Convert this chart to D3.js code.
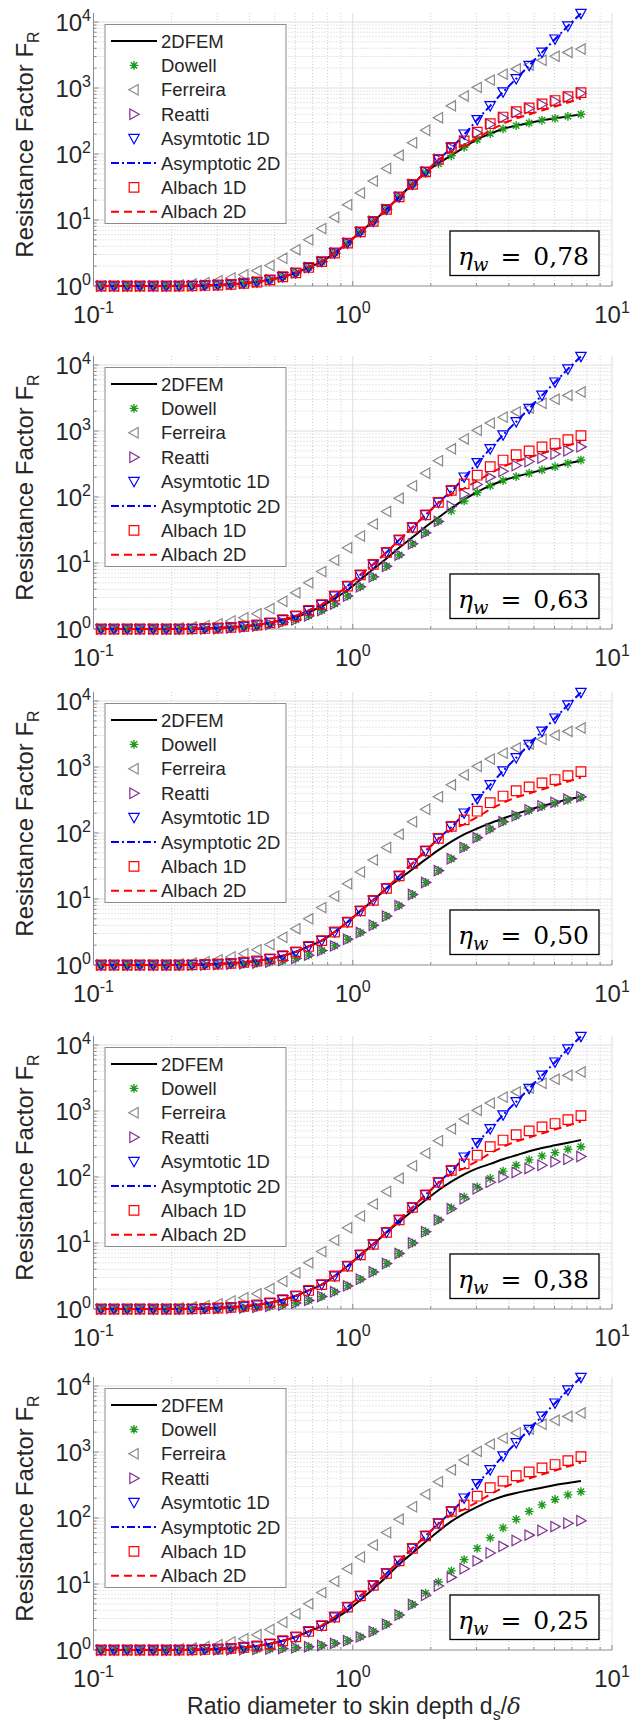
<!DOCTYPE html>
<html>
<head>
<meta charset="utf-8">
<script src="https://cdn.jsdelivr.net/npm/d3@7/dist/d3.min.js"></script>
<style>
body { margin: 0; background: #fff; }
text { font-family: "Liberation Sans", Arial, sans-serif; fill: #262626; }
</style>
</head>
<body>
<svg id="fig" width="639" height="1722"></svg>
<script>
// ratio d/delta at which every model was evaluated
var xs = [0.107, 0.120, 0.135, 0.151, 0.170, 0.191, 0.214, 0.240, 0.269, 0.302, 0.339, 0.380, 0.427, 0.479, 0.537, 0.603, 0.676, 0.759, 0.851, 0.955,
          1.07, 1.20, 1.35, 1.51, 1.70, 1.91, 2.14, 2.40, 2.69, 3.02, 3.39, 3.80, 4.27, 4.79, 5.37, 6.03, 6.76, 7.59];

// models that look the same in every panel
var asym1D = [1, 1, 1, 1, 1, 1, 1, 1.007, 1.02, 1.035, 1.06, 1.10, 1.15, 1.24, 1.38, 1.58, 1.91, 2.34, 3.16, 4.47,
              6.61, 9.55, 14.5, 22.4, 34.7, 53.7, 83.2, 126, 200, 331, 537, 871, 1380, 2188, 3467, 5495, 8710, 13490];
var asym2D = [1, 1, 1, 1, 1, 1, 1, 1.007, 1.02, 1.035, 1.06, 1.10, 1.15, 1.24, 1.38, 1.58, 1.91, 2.34, 3.16, 4.47,
              6.61, 9.55, 14.5, 22.4, 34.7, 53.7, 83.2, 122, 196, 331, 537, 871, 1380, 2188, 3467, 5495, 8710, 13490];
var albach1D = [1, 1, 1, 1, 1, 1, 1, 1.007, 1.02, 1.035, 1.06, 1.10, 1.15, 1.24, 1.38, 1.58, 1.91, 2.34, 3.16, 4.47,
                6.61, 9.55, 14.5, 22.4, 34.7, 53.7, 83.2, 126, 158, 214, 288, 363, 437, 501, 575, 646, 741, 851];
var albach2D = [1, 1, 1, 1, 1, 1, 1, 1.007, 1.02, 1.035, 1.06, 1.10, 1.15, 1.24, 1.38, 1.58, 1.91, 2.34, 3.16, 4.47,
                6.61, 9.55, 14.5, 22.4, 34.7, 53.0, 81.0, 112, 135, 174, 229, 288, 347, 398, 457, 525, 603, 692];
var ferreira = [1, 1, 1, 1, 1, 1, 1.035, 1.07, 1.12, 1.20, 1.32, 1.48, 1.70, 2.04, 2.63, 3.55, 5.01, 7.41, 11.0, 17.0,
                25.7, 38.9, 60.3, 95.5, 148, 229, 355, 537, 759, 1023, 1318, 1622, 1950, 2239, 2630, 3020, 3467, 3890];

// eta_w = 0,78
var fem78 = [1, 1, 1, 1, 1, 1, 1, 1.007, 1.02, 1.035, 1.06, 1.10, 1.15, 1.24, 1.38, 1.58, 1.91, 2.34, 3.16, 4.47,
             6.61, 9.55, 14.5, 22.4, 34.7, 52.5, 72.4, 95.5, 126, 166, 204, 240, 269, 295, 324, 347, 372, 398];
var dowell78 = [1, 1, 1, 1, 1, 1, 1, 1.007, 1.02, 1.035, 1.06, 1.10, 1.15, 1.24, 1.38, 1.58, 1.91, 2.34, 3.16, 4.47,
                6.61, 9.55, 14.5, 22.4, 34.7, 52.0, 71.0, 94.0, 126, 166, 204, 240, 269, 295, 324, 347, 372, 400];
var reatti78 = [1, 1, 1, 1, 1, 1, 1, 1.007, 1.02, 1.035, 1.06, 1.10, 1.15, 1.24, 1.38, 1.58, 1.91, 2.34, 3.16, 4.47,
                6.61, 9.55, 14.5, 22.4, 34.7, 53.7, 83.2, 123, 155, 209, 282, 355, 427, 490, 562, 631, 724, 832];
// eta_w = 0,63
var fem63 = [1, 1, 1, 1, 1, 1, 1, 1.007, 1.02, 1.035, 1.06, 1.10, 1.15, 1.24, 1.38, 1.50, 1.80, 2.20, 2.90, 3.90,
             5.60, 8.10, 11.7, 17.0, 24.5, 35.5, 49.0, 67.6, 91.2, 120, 148, 178, 204, 229, 257, 288, 324, 355];
var dowell63 = [1, 1, 1, 1, 1, 1, 1, 1, 1, 1.01, 1.03, 1.06, 1.11, 1.17, 1.26, 1.38, 1.58, 1.91, 2.40, 3.16,
                4.37, 6.17, 8.91, 13.2, 19.5, 28.8, 42.7, 61.7, 87.1, 117, 148, 178, 204, 229, 257, 288, 324, 363];
var reatti63 = [1, 1, 1, 1, 1, 1, 1, 1, 1, 1.01, 1.03, 1.06, 1.11, 1.17, 1.26, 1.38, 1.58, 1.91, 2.40, 3.16,
                4.37, 6.17, 8.91, 13.2, 19.5, 28.8, 42.7, 72.4, 110, 155, 200, 245, 300, 345, 389, 447, 501, 575];
// eta_w = 0,50
var fem50 = [1, 1, 1, 1, 1, 1, 1, 1.007, 1.02, 1.035, 1.06, 1.10, 1.15, 1.24, 1.38, 1.58, 1.91, 2.34, 3.16, 4.47,
             6.61, 9.55, 14.5, 20.0, 28.2, 39.8, 55.0, 74.1, 95.5, 117, 141, 166, 195, 224, 257, 288, 324, 355];
var dowell50 = [1, 1, 1, 1, 1, 1, 1, 1, 1, 1.015, 1.025, 1.04, 1.07, 1.11, 1.17, 1.26, 1.41, 1.66, 1.95, 2.45,
                3.10, 4.00, 5.50, 7.94, 11.7, 17.8, 26.9, 40.7, 60.3, 85.1, 115, 148, 182, 219, 251, 282, 316, 347];
var reatti50 = [1, 1, 1, 1, 1, 1, 1, 1, 1, 1.015, 1.025, 1.04, 1.07, 1.11, 1.17, 1.26, 1.41, 1.66, 1.95, 2.45,
                3.10, 4.00, 5.50, 7.94, 11.7, 17.8, 26.9, 40.7, 60.3, 85.1, 115, 148, 182, 224, 257, 291, 324, 355];
// eta_w = 0,38
var fem38 = [1, 1, 1, 1, 1, 1, 1, 1.007, 1.02, 1.035, 1.06, 1.10, 1.15, 1.24, 1.38, 1.58, 1.91, 2.34, 3.16, 4.47,
             6.61, 9.55, 14.5, 20.9, 30.9, 44.7, 63.1, 85.1, 110, 135, 158, 186, 214, 245, 275, 302, 331, 363];
var dowell38 = [1, 1, 1, 1, 1, 1, 1, 1, 1, 1.014, 1.023, 1.035, 1.06, 1.10, 1.15, 1.23, 1.35, 1.55, 1.82, 2.24,
                2.82, 3.63, 4.90, 6.92, 10.0, 14.8, 22.4, 33.9, 50.1, 70.8, 95.5, 123, 151, 182, 209, 234, 263, 288];
var reatti38 = [1, 1, 1, 1, 1, 1, 1, 1, 1, 1.014, 1.023, 1.035, 1.06, 1.10, 1.15, 1.23, 1.35, 1.55, 1.82, 2.24,
                2.82, 3.63, 4.90, 6.92, 10.0, 14.8, 22.4, 33.1, 46.8, 66.1, 83.2, 100, 117, 135, 151, 170, 186, 204];
// eta_w = 0,25
var fem25 = [1, 1, 1, 1, 1, 1, 1, 1.007, 1.02, 1.035, 1.06, 1.10, 1.15, 1.24, 1.38, 1.58, 1.91, 2.30, 2.95, 3.98,
             5.75, 8.51, 12.9, 20.0, 29.5, 43.7, 63.1, 89.1, 117, 148, 182, 214, 240, 263, 288, 316, 339, 363];
var dowell25 = [1, 1, 1, 1, 1, 1, 1, 1, 1, 1.007, 1.009, 1.014, 1.023, 1.035, 1.05, 1.08, 1.12, 1.17, 1.26, 1.38,
                1.58, 1.91, 2.45, 3.39, 4.90, 7.24, 10.7, 15.8, 23.4, 34.7, 50.1, 70.8, 95.5, 126, 158, 191, 224, 251];
var reatti25 = [1, 1, 1, 1, 1, 1, 1, 1, 1, 1.007, 1.009, 1.014, 1.023, 1.035, 1.05, 1.08, 1.12, 1.17, 1.26, 1.38,
                1.58, 1.91, 2.45, 3.39, 4.90, 6.76, 9.33, 12.6, 17.0, 22.4, 29.5, 37.2, 45.7, 55.0, 64.6, 74.1, 83.2, 91.2];

var etaLabels = ['0,78', '0,63', '0,50', '0,38', '0,25'];
var femSets = [fem78, fem63, fem50, fem38, fem25];
var dowellSets = [dowell78, dowell63, dowell50, dowell38, dowell25];
var reattiSets = [reatti78, reatti63, reatti50, reatti38, reatti25];
var legendNames = ['2DFEM', 'Dowell', 'Ferreira', 'Reatti', 'Asymtotic 1D', 'Asymptotic 2D', 'Albach 1D', 'Albach 2D'];
var yTickExp = [0, 1, 2, 3, 4];
var xTickExp = ['-1', '0', '1'];

var GREEN = '#1f9a1f', GRAY = '#8a8a8a', PURPLE = '#7e2f8e', BLUE = '#0000ff', RED = '#ff0000';

// style for each legend entry, same order as legendNames
var styles = [
	{ line: '#000', dash: null, marker: null },
	{ line: null, marker: 'star', color: GREEN },
	{ line: null, marker: 'left', color: GRAY },
	{ line: null, marker: 'right', color: PURPLE },
	{ line: null, marker: 'down', color: BLUE },
	{ line: BLUE, dash: '8,3,2,3', marker: null },
	{ line: null, marker: 'square', color: RED },
	{ line: RED, dash: '8,5', marker: null }
];

var svg = d3.select('#fig');
svg.append('rect').attr('width', 639).attr('height', 1722).attr('fill', '#fff');

var panelBase = [286, 629, 965, 1309, 1650]; // pixel row of 10^0 in each panel
var x = d3.scaleLog().domain([0.1, 10]).range([93.5, 612]);

function markerPath(kind) {
	var r = 5.2;
	switch (kind) {
		case 'star':
			var q = 3.2;
			return 'M' + (-4.4) + ',0H4.4M0,-4.4V4.4M' + (-q) + ',' + (-q) + 'L' + q + ',' + q + 'M' + (-q) + ',' + q + 'L' + q + ',' + (-q);
		case 'left':
			return 'M' + (-r) + ',0L' + (r * 0.8) + ',' + (-r) + 'L' + (r * 0.8) + ',' + r + 'Z';
		case 'right':
			return 'M' + r + ',0L' + (-r * 0.8) + ',' + (-r) + 'L' + (-r * 0.8) + ',' + r + 'Z';
		case 'down':
			return 'M0,' + r + 'L' + (-r) + ',' + (-r * 0.8) + 'L' + r + ',' + (-r * 0.8) + 'Z';
		case 'square':
			return 'M-4.8,-4.8H4.8V4.8H-4.8Z';
	}
}

function drawPanel(p) {
	var y0 = panelBase[p];
	var y = d3.scaleLog().domain([1, 13700]).range([y0, y0 - 273]);
	var g = svg.append('g').attr('class', 'panel');
	var top = y.range()[1];

	// grid: dotted minor lines, solid major lines
	var minorX = [], minorY = [];
	[0.1, 1].forEach(function(d) { for (var k = 2; k <= 9; k++) minorX.push(k * d); });
	[1, 10, 100, 1000].forEach(function(d) { for (var k = 2; k <= 9; k++) minorY.push(k * d); });
	var grid = g.append('g');
	grid.selectAll('.mx').data(minorX).enter().append('line')
		.attr('x1', d => x(d)).attr('x2', d => x(d)).attr('y1', top).attr('y2', y0)
		.attr('stroke', '#cfcfcf').attr('stroke-dasharray', '1,2');
	grid.selectAll('.my').data(minorY).enter().append('line')
		.attr('x1', x.range()[0]).attr('x2', x.range()[1]).attr('y1', d => y(d)).attr('y2', d => y(d))
		.attr('stroke', '#cfcfcf').attr('stroke-dasharray', '1,2');
	grid.selectAll('.Mx').data([1, 10]).enter().append('line')
		.attr('x1', d => x(d)).attr('x2', d => x(d)).attr('y1', top).attr('y2', y0)
		.attr('stroke', '#dedede');
	grid.selectAll('.My').data([10, 100, 1000, 10000]).enter().append('line')
		.attr('x1', x.range()[0]).attr('x2', x.range()[1]).attr('y1', d => y(d)).attr('y2', d => y(d))
		.attr('stroke', '#dedede');

	// axes (ticks inside, MATLAB style)
	var ax = g.append('g').attr('stroke', '#8c8c8c').attr('stroke-width', 1);
	ax.append('line').attr('x1', x.range()[0]).attr('x2', x.range()[0]).attr('y1', top).attr('y2', y0);
	ax.append('line').attr('x1', x.range()[0]).attr('x2', x.range()[1]).attr('y1', y0).attr('y2', y0);
	ax.selectAll('.ty').data(minorY).enter().append('line')
		.attr('x1', x.range()[0]).attr('x2', x.range()[0] + 3).attr('y1', d => y(d)).attr('y2', d => y(d));
	ax.selectAll('.tY').data([1, 10, 100, 1000, 10000]).enter().append('line')
		.attr('x1', x.range()[0]).attr('x2', x.range()[0] + 5).attr('y1', d => y(d)).attr('y2', d => y(d));
	ax.selectAll('.tx').data(minorX).enter().append('line')
		.attr('x1', d => x(d)).attr('x2', d => x(d)).attr('y1', y0).attr('y2', y0 - 3);
	ax.selectAll('.tX').data([0.1, 1, 10]).enter().append('line')
		.attr('x1', d => x(d)).attr('x2', d => x(d)).attr('y1', y0).attr('y2', y0 - 5);

	// tick labels
	g.selectAll('.yl').data(yTickExp).enter().append('text')
		.attr('x', x.range()[0] - 2.5).attr('y', d => y(Math.pow(10, d)) + 8.5)
		.attr('text-anchor', 'end').style('font-size', '24px')
		.each(function(d) {
			var t = d3.select(this);
			t.append('tspan').text('10');
			t.append('tspan').attr('dy', -10).style('font-size', '16px').text(d);
		});
	g.selectAll('.xl').data(xTickExp).enter().append('text')
		.attr('x', d => x(Math.pow(10, +d))).attr('y', y0 + 37)
		.attr('text-anchor', 'middle').style('font-size', '24px')
		.each(function(d) {
			var t = d3.select(this);
			t.append('tspan').text('10');
			t.append('tspan').attr('dy', -10).style('font-size', '16px').text(d === '-1' ? '-1' : d);
		});

	// y axis title
	var yt = g.append('text').attr('transform', 'translate(33,' + (y0 - 141.5) + ')rotate(-90)')
		.attr('text-anchor', 'middle').style('font-size', '24px');
	yt.append('tspan').text('Resistance Factor F');
	yt.append('tspan').attr('dy', 6).style('font-size', '16px').text('R');

	// series
	var series = [femSets[p], dowellSets[p], ferreira, reattiSets[p], asym1D, asym2D, albach1D, albach2D];
	var plot = g.append('g');
	series.forEach(function(vals, k) {
		var st = styles[k];
		var pts = xs.map((xv, i) => [xv, vals[i]]);
		if (st.line) {
			var line = d3.line().x(d => x(d[0])).y(d => y(d[1]))
				.curve(k === 0 ? d3.curveMonotoneX : d3.curveLinear);
			plot.append('path').attr('d', line(pts)).attr('fill', 'none')
				.attr('stroke', st.line).attr('stroke-width', 2)
				.attr('stroke-dasharray', st.dash);
		}
		if (st.marker) {
			plot.selectAll('.m' + k).data(pts).enter().append('path')
				.attr('transform', d => 'translate(' + x(d[0]) + ',' + y(d[1]) + ')')
				.attr('d', markerPath(st.marker)).attr('fill', 'none')
				.attr('stroke', st.color).attr('stroke-width', st.marker === 'star' ? 1.4 : 1.2);
		}
	});

	// legend
	var lg = g.append('g');
	lg.append('rect').attr('x', 105).attr('y', y0 - 261.5).attr('width', 181).attr('height', 199)
		.attr('fill', '#fff').attr('stroke', '#8c8c8c').attr('stroke-width', 1);
	legendNames.forEach(function(name, k) {
		var ly = y0 - 245 + k * 24.4;
		var st = styles[k];
		if (st.line) {
			lg.append('line').attr('x1', 111).attr('x2', 157).attr('y1', ly).attr('y2', ly)
				.attr('stroke', st.line).attr('stroke-width', 2).attr('stroke-dasharray', st.dash);
		}
		if (st.marker) {
			lg.append('path').attr('transform', 'translate(134,' + ly + ')')
				.attr('d', markerPath(st.marker)).attr('fill', 'none')
				.attr('stroke', st.color).attr('stroke-width', st.marker === 'star' ? 1.4 : 1.2);
		}
		lg.append('text').attr('x', 161).attr('y', ly + 6.5).style('font-size', '18.5px').text(name);
	});

	// porosity box
	var an = g.append('g');
	an.append('rect').attr('x', 450).attr('y', y0 - 55).attr('width', 149).attr('height', 44.5)
		.attr('fill', '#fff').attr('stroke', '#000').attr('stroke-width', 1.3);
	var at = an.append('text').attr('x', 458).attr('y', y0 - 21)
		.style('font-family', '"DejaVu Serif", serif').style('font-size', '25px').style('fill', '#000');
	at.append('tspan').style('font-style', 'italic').text('η');
	at.append('tspan').attr('dy', 6).style('font-style', 'italic').style('font-size', '18px').text('w');
	at.append('tspan').attr('dy', -6).attr('dx', 12).text('=');
	at.append('tspan').attr('dx', 12).text(etaLabels[p]);
}

for (var p = 0; p < panelBase.length; p++) drawPanel(p);

// x axis title
var xt = svg.append('text').attr('x', 354).attr('y', 1714).attr('text-anchor', 'middle').style('font-size', '23px');
xt.append('tspan').text('Ratio diameter to skin depth d');
xt.append('tspan').attr('dy', 6).style('font-size', '16px').text('s');
xt.append('tspan').attr('dy', -6).text('/');
xt.append('tspan').style('font-family', '"DejaVu Serif", serif').style('font-style', 'italic').text('δ');
</script>
</body>
</html>
